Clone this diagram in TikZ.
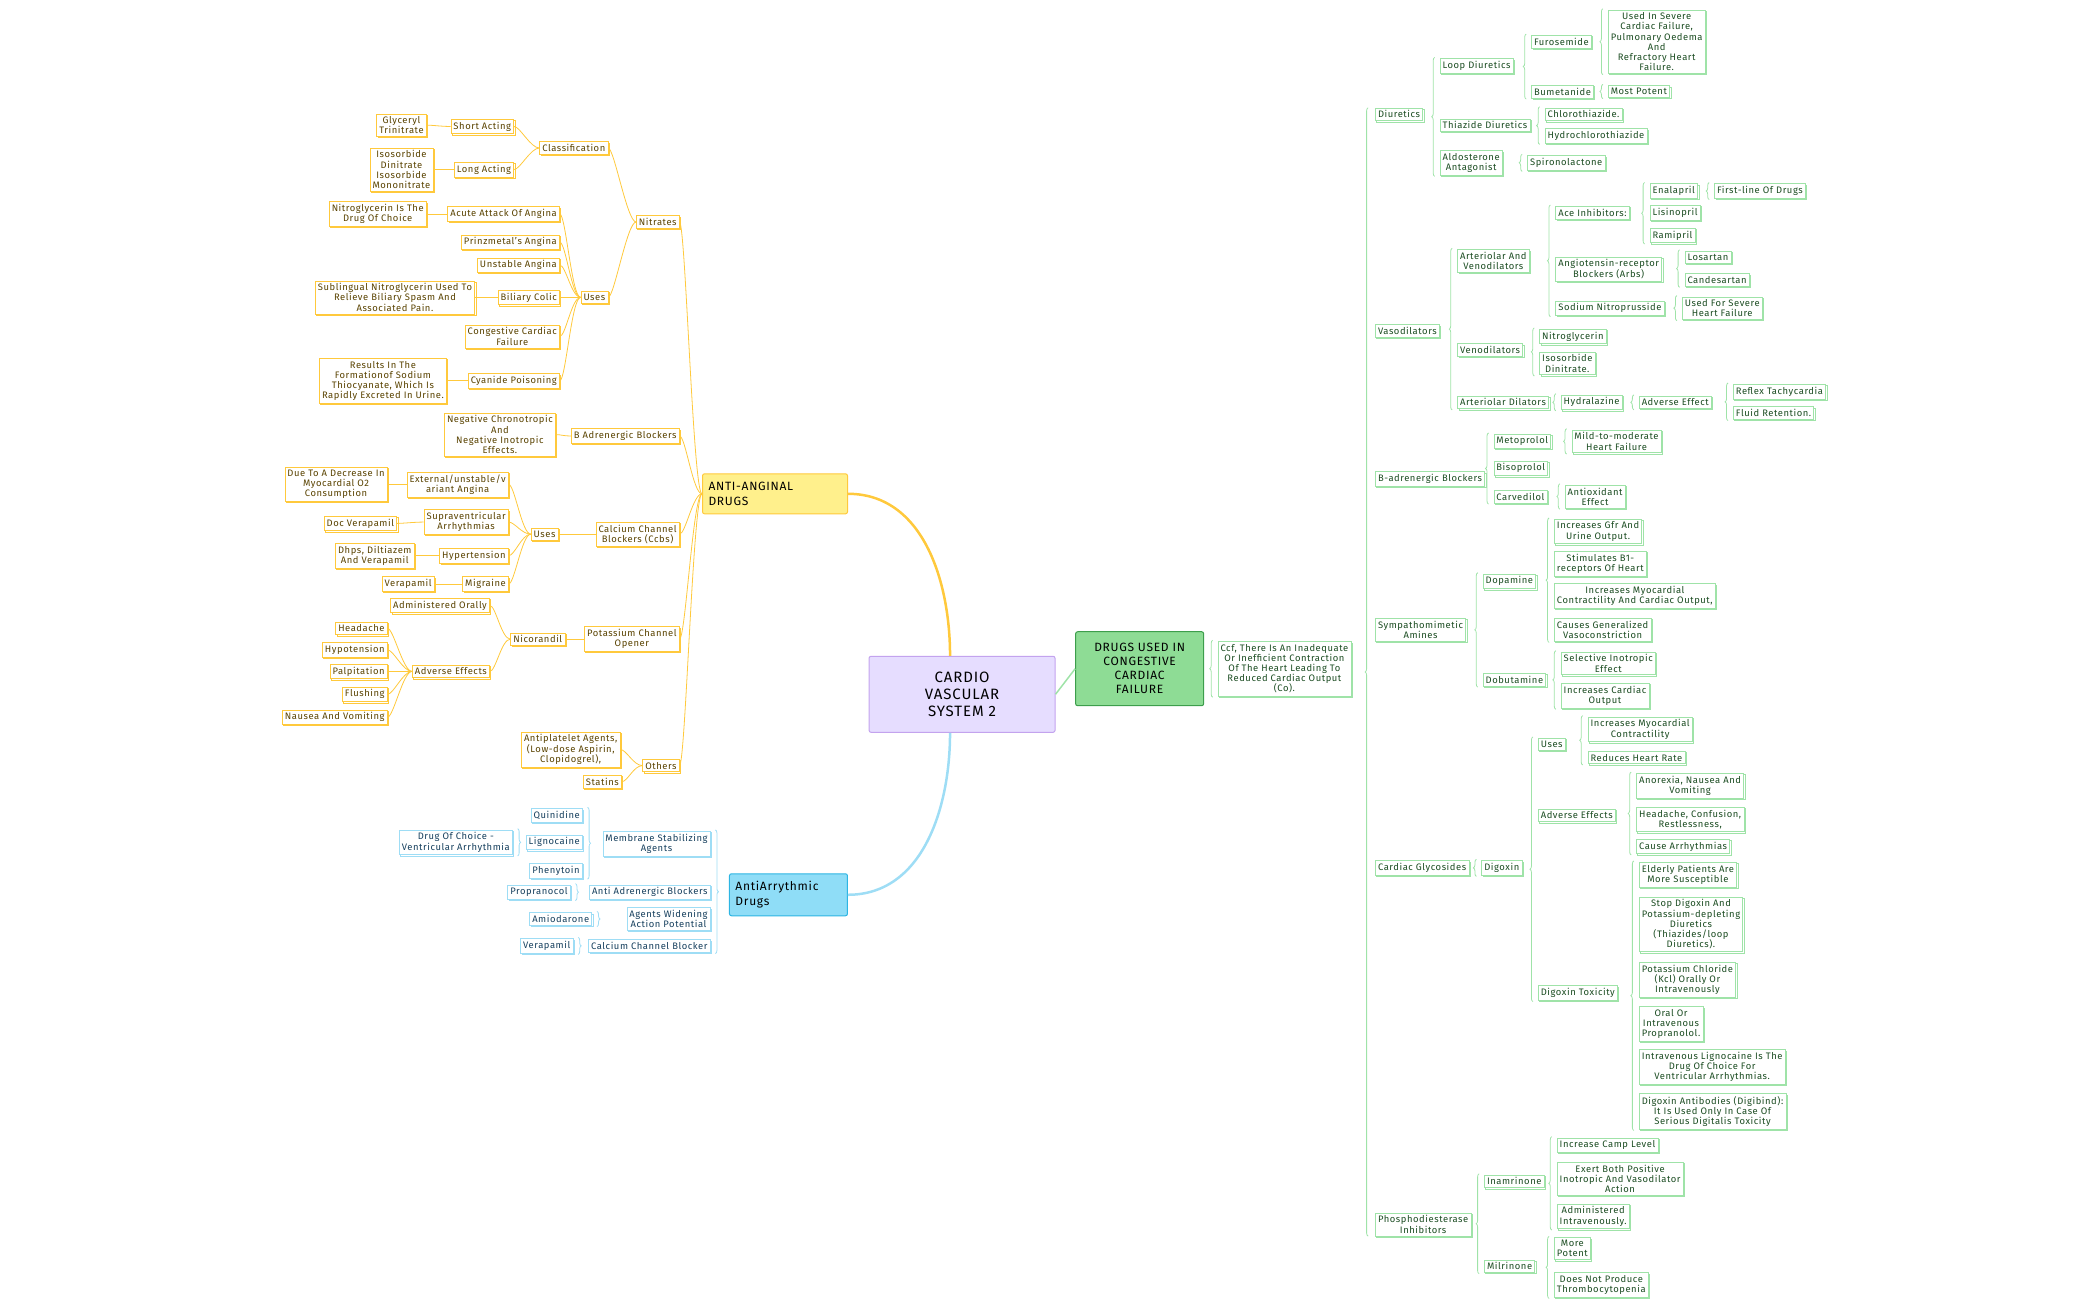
\documentclass[tikz,border=0pt]{standalone}
\usepackage{fontspec}
\setmainfont{Fira Sans}[LetterSpace=6]
\usepackage{xcolor}
\usepackage{tikz}
\usetikzlibrary{positioning}
\usetikzlibrary{shadows}
\usetikzlibrary{decorations.pathreplacing}

\definecolor{oline}{HTML}{FFC93C}
\definecolor{otext}{HTML}{5A4300}
\definecolor{bline}{HTML}{9EDDF5}
\definecolor{btext}{HTML}{17405E}
\definecolor{gline}{HTML}{9FE3A8}
\definecolor{gtext}{HTML}{1C4D22}
\definecolor{rootfill}{HTML}{E6DDFF}
\definecolor{rootline}{HTML}{C3A3EE}
\definecolor{aafill}{HTML}{FFF08C}
\definecolor{arfill}{HTML}{8FDDF7}
\definecolor{arline}{HTML}{2DB5E3}
\definecolor{chfill}{HTML}{8EDC95}
\definecolor{chline}{HTML}{3D9E4C}

\tikzset{
  box/.style = {rectangle, fill = white, line width = 0.6pt, inner sep = 2.6pt, align = center,
                font = \fontsize{9.4}{10.2}\selectfont,
                copy shadow = {shadow xshift = 1.3pt, shadow yshift = -1.3pt, fill = white, draw = #1}},
  ob/.style = {box = oline, draw = oline, text = otext},
  bb/.style = {box = bline, draw = bline, text = btext},
  gb/.style = {box = gline, draw = gline, text = gtext},
  olink/.style = {draw = oline, line width = 0.8pt},
  gbr/.style = {draw = gline, line width = 0.8pt, decorate, decoration = {brace, amplitude = 3pt}},
  bbr/.style = {draw = bline, line width = 0.8pt, decorate, decoration = {brace, amplitude = 3pt}},
}

% brace left of a group (tip to the left)
\newcommand{\gbrace}[2]{\draw [gbr] ([xshift = -5pt, yshift = -1pt]#2.south west) -- ([xshift = -5pt, yshift = 1pt]#1.north west);}
% brace right of a group (tip to the right)
\newcommand{\bbrace}[2]{\draw [bbr] ([xshift = 5pt, yshift = 1pt]#1.north east) -- ([xshift = 5pt, yshift = -1pt]#2.south east);}

\begin{document}
\begin{tikzpicture}[x = 1.3455pt, y = -1.3455pt]
\useasboundingbox (0, 0) rectangle (1560, 966.2);

% central topics
\node [draw = rootline, fill = rootfill, line width = 1pt, rounded corners = 2pt, minimum width = 186pt, minimum height = 76pt, align = center, font = \fontsize{15}{17}\selectfont] (root) at (715, 516) {CARDIO\\VASCULAR\\SYSTEM 2};
\node [draw = oline, fill = aafill, line width = 1pt, rounded corners = 2pt, minimum width = 145pt, minimum height = 40pt, text width = 133pt, align = left, font = \fontsize{12}{15}\selectfont] (aa) at (576, 367) {ANTI-ANGINAL\\DRUGS};
\node [draw = arline, fill = arfill, line width = 1pt, rounded corners = 2pt, minimum width = 118pt, minimum height = 42pt, text width = 106pt, align = left, font = \fontsize{12}{15}\selectfont] (ar) at (586, 665) {AntiArrythmic\\Drugs};
\node [draw = chline, fill = chfill, line width = 1pt, rounded corners = 2pt, minimum width = 128pt, minimum height = 74pt, align = center, font = \fontsize{12}{14}\selectfont] (ch) at (847, 497) {DRUGS USED IN\\CONGESTIVE\\CARDIAC\\FAILURE};

\draw [oline, line width = 2.5pt] ([xshift = -12pt]root.north) to [out = 90, in = 0] (aa.east);
\draw [bline, line width = 2.5pt] ([xshift = -12pt]root.south) to [out = -90, in = 0] (ar.east);
\draw [gline, line width = 1.5pt] (root.east) -- (ch.west);

% anti-anginal drugs
\node [ob, anchor = east] (nitr) at (505, 165) {Nitrates};
\node [ob, anchor = east] (badr) at (505, 324) {B Adrenergic Blockers};
\node [ob, anchor = east] (ccb) at (505, 397) {Calcium Channel\\Blockers (Ccbs)};
\node [ob, anchor = east] (kco) at (505, 475) {Potassium Channel\\Opener};
\node [ob, anchor = east] (oth) at (505, 569) {Others};
\node [ob, anchor = east] (cls) at (452, 110) {Classification};
\node [ob, anchor = east] (nuse) at (452, 221) {Uses};
\node [ob, anchor = east] (sha) at (382, 94) {Short Acting};
\node [ob, anchor = east] (loa) at (382, 126) {Long Acting};
\node [ob, anchor = east] (gtn) at (317, 93) {Glyceryl\\Trinitrate};
\node [ob, anchor = east] (iso) at (322, 126) {Isosorbide\\Dinitrate\\Isosorbide\\Mononitrate};
\node [ob, anchor = east] (aca) at (416, 159) {Acute Attack Of Angina};
\node [ob, anchor = east] (pra) at (416, 180) {Prinzmetal's Angina};
\node [ob, anchor = east] (una) at (416, 197) {Unstable Angina};
\node [ob, anchor = east] (bil) at (416, 221) {Biliary Colic};
\node [ob, anchor = east] (ccfl) at (416, 250) {Congestive Cardiac\\Failure};
\node [ob, anchor = east] (cya) at (416, 283) {Cyanide Poisoning};
\node [ob, anchor = east] (ntg) at (317, 159) {Nitroglycerin Is The\\Drug Of Choice};
\node [ob, anchor = east] (sub) at (353, 221) {Sublingual Nitroglycerin Used To\\Relieve Biliary Spasm And\\Associated Pain.};
\node [ob, anchor = east] (res) at (332, 283) {Results In The\\Formationof Sodium\\Thiocyanate, Which Is\\Rapidly Excreted In Urine.};
\node [ob, anchor = east] (neg) at (413, 323) {Negative Chronotropic\\And\\Negative Inotropic\\Effects.};
\node [ob, anchor = east] (cuse) at (415, 397) {Uses};
\node [ob, anchor = east] (ext) at (378, 360) {External/unstable/v\\ariant Angina};
\node [ob, anchor = east] (sva) at (378, 388) {Supraventricular\\Arrhythmias};
\node [ob, anchor = east] (hyp) at (378, 413) {Hypertension};
\node [ob, anchor = east] (mig) at (378, 434) {Migraine};
\node [ob, anchor = east] (dec) at (288, 360) {Due To A Decrease In\\Myocardial O2\\Consumption};
\node [ob, anchor = east] (docv) at (295, 389) {Doc Verapamil};
\node [ob, anchor = east] (dhp) at (308, 413) {Dhps, Diltiazem\\And Verapamil};
\node [ob, anchor = east] (ver) at (323, 434) {Verapamil};
\node [ob, anchor = east] (nic) at (420, 475) {Nicorandil};
\node [ob, anchor = east] (ado) at (364, 450) {Administered Orally};
\node [ob, anchor = east] (nae) at (364, 499) {Adverse Effects};
\node [ob, anchor = east] (hea) at (288, 467) {Headache};
\node [ob, anchor = east] (hyt) at (288, 483) {Hypotension};
\node [ob, anchor = east] (pal) at (288, 499) {Palpitation};
\node [ob, anchor = east] (flu) at (288, 516) {Flushing};
\node [ob, anchor = east] (nau) at (288, 533) {Nausea And Vomiting};
\node [ob, anchor = east] (apt) at (461, 557) {Antiplatelet Agents,\\(Low-dose Aspirin,\\Clopidogrel),};
\node [ob, anchor = east] (sta) at (462, 581) {Statins};

\foreach \p/\c in {aa/nitr, aa/badr, aa/ccb, aa/kco, aa/oth, nitr/cls, nitr/nuse, cls/sha, cls/loa,
    sha/gtn, loa/iso, nuse/aca, nuse/pra, nuse/una, nuse/bil, nuse/ccfl, nuse/cya, aca/ntg, bil/sub,
    cya/res, badr/neg, ccb/cuse, cuse/ext, cuse/sva, cuse/hyp, cuse/mig, ext/dec, sva/docv, hyp/dhp,
    mig/ver, kco/nic, nic/ado, nic/nae, nae/hea, nae/hyt, nae/pal, nae/flu, nae/nau, oth/apt, oth/sta}
  \draw [olink] (\p.west) to [out = 180, in = 0, out distance = 9pt, in distance = 6pt] (\c.east);

% antiarrythmic drugs
\node [bb, anchor = east] (msa) at (528, 627) {Membrane Stabilizing\\Agents};
\node [bb, anchor = east] (aab) at (528, 663) {Anti Adrenergic Blockers};
\node [bb, anchor = east] (awa) at (528, 683) {Agents Widening\\Action Potential};
\node [bb, anchor = east] (bcb) at (528, 703) {Calcium Channel Blocker};
\node [bb, anchor = east] (qui) at (433, 606) {Quinidine};
\node [bb, anchor = east] (lig) at (433, 626) {Lignocaine};
\node [bb, anchor = east] (phe) at (433, 647) {Phenytoin};
\node [bb, anchor = east] (dcv) at (381, 626) {Drug Of Choice -\\Ventricular Arrhythmia};
\node [bb, anchor = east] (pro) at (424, 663) {Propranocol};
\node [bb, anchor = east] (ami) at (440, 683) {Amiodarone};
\node [bb, anchor = east] (bver) at (426, 703) {Verapamil};

\bbrace{msa}{bcb}
\bbrace{qui}{phe}
\bbrace{dcv}{dcv}
\bbrace{pro}{pro}
\bbrace{ami}{ami}
\bbrace{bver}{bver}

% congestive cardiac failure
\node [gb, anchor = west] (def) at (905, 497) {Ccf, There Is An Inadequate\\Or Inefficient Contraction\\Of The Heart Leading To\\Reduced Cardiac Output\\(Co).};
\node [gb, anchor = west] (diu) at (1022, 85) {Diuretics};
\node [gb, anchor = west] (vaso) at (1022, 246) {Vasodilators};
\node [gb, anchor = west] (bab) at (1022, 356) {B-adrenergic Blockers};
\node [gb, anchor = west] (sym) at (1022, 468) {Sympathomimetic\\Amines};
\node [gb, anchor = west] (cgl) at (1022, 645) {Cardiac Glycosides};
\node [gb, anchor = west] (pde) at (1022, 910) {Phosphodiesterase\\Inhibitors};

\node [gb, anchor = west] (lpd) at (1070, 49) {Loop Diuretics};
\node [gb, anchor = west] (thz) at (1070, 93) {Thiazide Diuretics};
\node [gb, anchor = west] (ald) at (1070, 121) {Aldosterone\\Antagonist};
\node [gb, anchor = west] (fur) at (1138, 31) {Furosemide};
\node [gb, anchor = west] (bum) at (1138, 68) {Bumetanide};
\node [gb, anchor = west] (usf) at (1195, 31) {Used In Severe\\Cardiac Failure,\\Pulmonary Oedema\\And\\Refractory Heart\\Failure.};
\node [gb, anchor = west] (mpo) at (1195, 68) {Most Potent};
\node [gb, anchor = west] (cht) at (1148, 85) {Chlorothiazide.};
\node [gb, anchor = west] (hct) at (1148, 101) {Hydrochlorothiazide};
\node [gb, anchor = west] (spi) at (1135, 121) {Spironolactone};

\node [gb, anchor = west] (avd) at (1083, 194) {Arteriolar And\\Venodilators};
\node [gb, anchor = west] (vnd) at (1083, 260) {Venodilators};
\node [gb, anchor = west] (ard) at (1083, 299) {Arteriolar Dilators};
\node [gb, anchor = west] (ace) at (1156, 158) {Ace Inhibitors:};
\node [gb, anchor = west] (arb) at (1156, 200) {Angiotensin-receptor\\Blockers (Arbs)};
\node [gb, anchor = west] (snp) at (1156, 229) {Sodium Nitroprusside};
\node [gb, anchor = west] (ena) at (1226, 142) {Enalapril};
\node [gb, anchor = west] (lis) at (1226, 158) {Lisinopril};
\node [gb, anchor = west] (ram) at (1226, 175) {Ramipril};
\node [gb, anchor = west] (fld) at (1274, 142) {First-line Of Drugs};
\node [gb, anchor = west] (los) at (1252, 191) {Losartan};
\node [gb, anchor = west] (can) at (1252, 208) {Candesartan};
\node [gb, anchor = west] (ufs) at (1250, 229) {Used For Severe\\Heart Failure};
\node [gb, anchor = west] (ntr) at (1144, 250) {Nitroglycerin};
\node [gb, anchor = west] (isd) at (1144, 270) {Isosorbide\\Dinitrate.};
\node [gb, anchor = west] (hyd) at (1160, 299) {Hydralazine};
\node [gb, anchor = west] (hae) at (1218, 299) {Adverse Effect};
\node [gb, anchor = west] (rft) at (1288, 291) {Reflex Tachycardia};
\node [gb, anchor = west] (flr) at (1288, 307) {Fluid Retention.};

\node [gb, anchor = west] (met) at (1110, 328) {Metoprolol};
\node [gb, anchor = west] (bis) at (1110, 348) {Bisoprolol};
\node [gb, anchor = west] (car) at (1110, 369) {Carvedilol};
\node [gb, anchor = west] (mmh) at (1168, 328) {Mild-to-moderate\\Heart Failure};
\node [gb, anchor = west] (aox) at (1163, 369) {Antioxidant\\Effect};

\node [gb, anchor = west] (dop) at (1102, 432) {Dopamine};
\node [gb, anchor = west] (dob) at (1102, 505) {Dobutamine};
\node [gb, anchor = west] (gfr) at (1155, 395) {Increases Gfr And\\Urine Output.};
\node [gb, anchor = west] (sb1) at (1155, 419) {Stimulates B1-\\receptors Of Heart};
\node [gb, anchor = west] (imc) at (1155, 443) {Increases Myocardial\\Contractility And Cardiac Output,};
\node [gb, anchor = west] (cgv) at (1155, 468) {Causes Generalized\\Vasoconstriction};
\node [gb, anchor = west] (sie) at (1160, 493) {Selective Inotropic\\Effect};
\node [gb, anchor = west] (ico) at (1160, 517) {Increases Cardiac\\Output};

\node [gb, anchor = west] (dig) at (1101, 645) {Digoxin};
\node [gb, anchor = west] (duse) at (1143, 553) {Uses};
\node [gb, anchor = west] (dae) at (1143, 606) {Adverse Effects};
\node [gb, anchor = west] (dtx) at (1143, 738) {Digoxin Toxicity};
\node [gb, anchor = west] (imy) at (1180, 542) {Increases Myocardial\\Contractility};
\node [gb, anchor = west] (rhr) at (1180, 563) {Reduces Heart Rate};
\node [gb, anchor = west] (anv) at (1216, 584) {Anorexia, Nausea And\\Vomiting};
\node [gb, anchor = west] (hcr) at (1216, 609) {Headache, Confusion,\\Restlessness,};
\node [gb, anchor = west] (car2) at (1216, 629) {Cause Arrhythmias};
\node [gb, anchor = west] (eld) at (1218, 650) {Elderly Patients Are\\More Susceptible};
\node [gb, anchor = west] (stp) at (1218, 687) {Stop Digoxin And\\Potassium-depleting\\Diuretics\\(Thiazides/loop\\Diuretics).};
\node [gb, anchor = west] (kcl) at (1218, 728) {Potassium Chloride\\(Kcl) Orally Or\\Intravenously};
\node [gb, anchor = west] (opr) at (1218, 761) {Oral Or\\Intravenous\\Propranolol.};
\node [gb, anchor = west] (ivl) at (1218, 793) {Intravenous Lignocaine Is The\\Drug Of Choice For\\Ventricular Arrhythmias.};
\node [gb, anchor = west] (dab) at (1218, 826) {Digoxin Antibodies (Digibind):\\It Is Used Only In Case Of\\Serious Digitalis Toxicity};

\node [gb, anchor = west] (ina) at (1103, 878) {Inamrinone};
\node [gb, anchor = west] (mil) at (1103, 941) {Milrinone};
\node [gb, anchor = west] (icl) at (1157, 851) {Increase Camp Level};
\node [gb, anchor = west] (ebp) at (1157, 876) {Exert Both Positive\\Inotropic And Vasodilator\\Action};
\node [gb, anchor = west] (aiv) at (1157, 904) {Administered\\Intravenously.};
\node [gb, anchor = west] (mpt) at (1155, 928) {More\\Potent};
\node [gb, anchor = west] (dnp) at (1155, 955) {Does Not Produce\\Thrombocytopenia};

\gbrace{def}{def}
\draw [gbr] ([xshift = -7pt]pde.west |- pde.south) -- ([xshift = -7pt]diu.west |- diu.north);
\gbrace{lpd}{ald}
\gbrace{fur}{bum}
\gbrace{usf}{usf}
\gbrace{mpo}{mpo}
\gbrace{cht}{hct}
\gbrace{spi}{spi}
\gbrace{avd}{ard}
\gbrace{ace}{snp}
\gbrace{ena}{ram}
\gbrace{fld}{fld}
\gbrace{los}{can}
\gbrace{ufs}{ufs}
\gbrace{ntr}{isd}
\gbrace{hyd}{hyd}
\gbrace{hae}{hae}
\gbrace{rft}{flr}
\gbrace{met}{car}
\gbrace{mmh}{mmh}
\gbrace{aox}{aox}
\gbrace{dop}{dob}
\gbrace{gfr}{cgv}
\gbrace{sie}{ico}
\gbrace{dig}{dig}
\gbrace{duse}{dtx}
\gbrace{imy}{rhr}
\gbrace{anv}{car2}
\gbrace{eld}{dab}
\gbrace{ina}{mil}
\gbrace{icl}{aiv}
\gbrace{mpt}{dnp}
\end{tikzpicture}
\end{document}
